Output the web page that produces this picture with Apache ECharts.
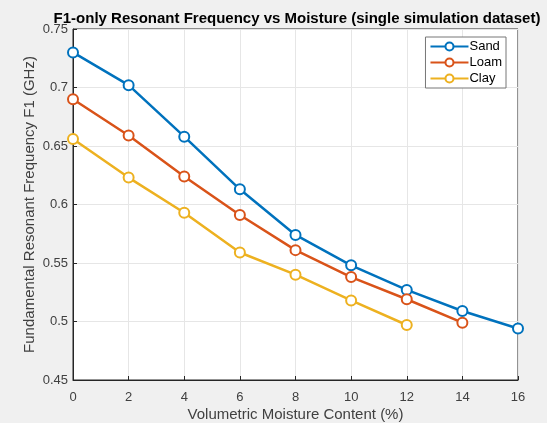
<!DOCTYPE html>
<html>
<head>
<meta charset="utf-8">
<script src="https://cdn.jsdelivr.net/npm/echarts@6/dist/echarts.min.js"></script>
<style>
  html, body { margin: 0; padding: 0; background: #f0f0f0; }
  #chart { width: 547px; height: 423px; }
</style>
</head>
<body>
<div id="chart"></div>
<script>
// moisture content (%)
const moisture = [0, 2, 4, 6, 8, 10, 12, 14, 16];
// F1 (GHz) per soil type
const sand = [0.730, 0.702, 0.658, 0.613, 0.574, 0.548, 0.527, 0.509, 0.494];
const loam = [0.690, 0.659, 0.624, 0.591, 0.561, 0.538, 0.519, 0.499];
const clay = [0.656, 0.623, 0.593, 0.559, 0.540, 0.518, 0.497];
const seriesNames = ['Sand', 'Loam', 'Clay'];
const colors = ['#0072BD', '#D95319', '#EDB120'];

const pairs = (vals) => vals.map((v, i) => [moisture[i], v]);

const chartDom = document.getElementById('chart');
const chart = echarts.init(chartDom);

const font = 'Liberation Sans, Arial, sans-serif';
const axisText = { color: '#404040', fontSize: 13, fontFamily: font };

const option = {
  backgroundColor: '#f0f0f0',
  animation: false,
  color: colors,
  title: {
    text: 'F1-only Resonant Frequency vs Moisture (single simulation dataset)',
    left: 292,
    top: 6,
    textAlign: 'center',
    textStyle: { color: '#000', fontSize: 15, fontWeight: 'bold', fontFamily: font },
  },
  legend: {
    right: 41,
    top: 37,
    orient: 'vertical',
    backgroundColor: '#fff',
    borderColor: '#777',
    borderWidth: 1,
    borderRadius: 0,
    padding: [3, 4, 3, 4],
    itemGap: 3,
    itemWidth: 38,
    itemHeight: 10,
    textStyle: { color: '#000', fontSize: 13, fontFamily: font, padding: [0, 0, 0, -4] },
    data: seriesNames,
  },
  grid: {
    left: 73,
    right: 29,
    top: 29,
    bottom: 43,
    outerBoundsMode: 'none',
    show: true,
    backgroundColor: '#fff',
    borderColor: '#262626',
    borderWidth: 1,
  },
  xAxis: {
    type: 'value',
    min: 0,
    max: 16,
    interval: 2,
    name: 'Volumetric Moisture Content (%)',
    nameLocation: 'middle',
    nameMoveOverlap: false,
    nameGap: 27,
    nameTextStyle: { color: '#404040', fontSize: 15, fontFamily: font },
    axisLine: { lineStyle: { color: '#262626' } },
    axisTick: { inside: true, length: 4, lineStyle: { color: '#262626' } },
    axisLabel: Object.assign({ margin: 11 }, axisText),
    splitLine: { lineStyle: { color: '#e6e6e6' } },
  },
  yAxis: {
    type: 'value',
    min: 0.45,
    max: 0.75,
    interval: 0.05,
    name: 'Fundamental Resonant Frequency F1 (GHz)',
    nameLocation: 'middle',
    nameMoveOverlap: false,
    nameGap: 36,
    nameTextStyle: { color: '#404040', fontSize: 15, fontFamily: font },
    axisLine: { show: true, lineStyle: { color: '#262626' } },
    axisTick: { show: true, inside: true, length: 4, lineStyle: { color: '#262626' } },
    axisLabel: Object.assign({
      margin: 5,
      formatter: (v) => String(parseFloat(v.toFixed(2))),
    }, axisText),
    splitLine: { lineStyle: { color: '#e6e6e6' } },
  },
  series: [sand, loam, clay].map((vals, i) => ({
    name: seriesNames[i],
    type: 'line',
    data: pairs(vals),
    symbol: 'emptyCircle',
    symbolSize: 10,
    lineStyle: { width: 2.5, color: colors[i] },
    itemStyle: { color: colors[i], borderWidth: 2.5 },
  })),
};

chart.setOption(option);
window.addEventListener('resize', () => {
  chart.resize();
});
</script>
</body>
</html>
